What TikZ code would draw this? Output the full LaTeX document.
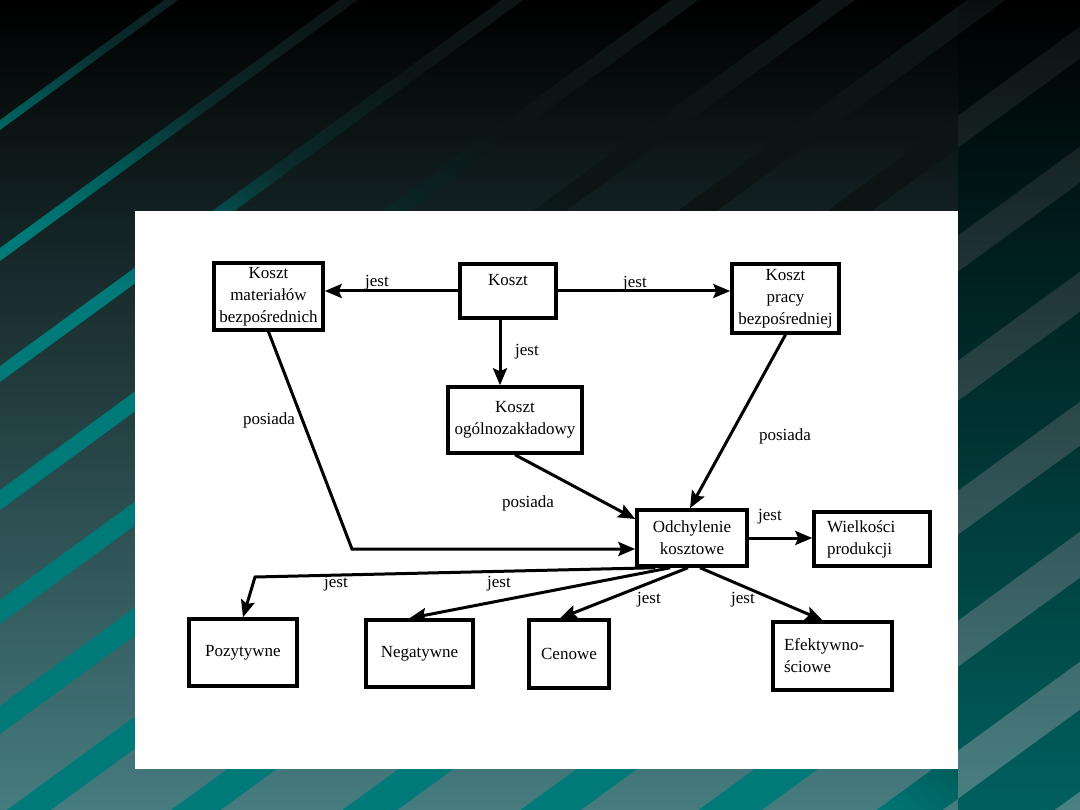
\documentclass[tikz,border=0pt]{standalone}
\usepackage{fontspec}
\setmainfont{Liberation Serif}
\usetikzlibrary{arrows.meta}

\definecolor{bglow}{HTML}{467C80}
\definecolor{stripeteal}{HTML}{007A78}
\definecolor{stripeteal2}{HTML}{005E5C}
\definecolor{stripemid}{HTML}{0B2A2A}
\definecolor{stripedark}{HTML}{0C1414}
\definecolor{rbglow}{HTML}{00605E}
\definecolor{rstriptop}{HTML}{0A0E0E}
\definecolor{rstriplow}{HTML}{4A8084}

\pgfdeclareverticalshading{stripeshade}{100bp}{color(0bp)=(stripeteal); color(43bp)=(stripeteal); color(47bp)=(stripeteal2); color(52bp)=(stripemid); color(59bp)=(stripedark); color(100bp)=(stripedark)}

\begin{document}
\begin{tikzpicture}[x=1pt, y=-1pt,
  every node/.style={font=\fontsize{17}{22}\selectfont},
  box/.style={draw, line width=3.5pt, fill=white, align=center, inner sep=0pt},
  lbl/.style={inner sep=1pt},
  arr/.style={line width=3pt, -{Stealth[length=17pt, width=14pt, inset=3pt]}}]
\def\stripes{120/10, 248/13, 366/16, 490/20, 600/24, 706/28, 815/32, 935/36, 1060/40, 1190/44, 1320/46, 1450/48, 1580/50}
\useasboundingbox (0,0) rectangle (1080,810);

% Background with stripes
\shade[top color=black, bottom color=bglow] (0,0) rectangle (1080,810);
\begin{scope}
  \clip \foreach \c/\t in \stripes {(-20,{\c+14.6}) -- (1100,{\c-803}) -- (1100,{\c-803+\t}) -- (-20,{\c+14.6+\t}) -- cycle};
  \shade[shading=stripeshade, shading angle=-35] (-10,-150) rectangle (1090,950);
\end{scope}
\begin{scope}
  \clip (958,0) rectangle (1080,810);
  \shade[top color=black, bottom color=rbglow] (958,0) rectangle (1080,810);
  \clip \foreach \c/\t in \stripes {(-20,{\c+14.6}) -- (1100,{\c-803}) -- (1100,{\c-803+\t}) -- (-20,{\c+14.6+\t}) -- cycle};
  \shade[top color=rstriptop, bottom color=rstriplow] (958,0) rectangle (1080,810);
\end{scope}

% White sheet
\fill[white] (135,211) rectangle (958,769);

% Boxes
\node[box, minimum width=109pt, minimum height=67pt] (kmb) at (268.5,296.5) {Koszt\\materiałów\\bezpośrednich};
\node[box, minimum width=96pt, minimum height=54pt] (k) at (508,291) {Koszt\\~};
\node[box, minimum width=107pt, minimum height=69pt] (kpb) at (785.5,298.5) {Koszt\\pracy\\bezpośredniej};
\node[box, minimum width=134pt, minimum height=66pt] (kog) at (515,420) {Koszt\\ogólnozakładowy};
\node[box, minimum width=110pt, minimum height=56pt] (odch) at (692,538) {Odchylenie\\kosztowe};
\node[box, minimum width=116pt, minimum height=54pt, text width=90pt, align=left] (wp) at (872,539) {Wielkości\\produkcji};
\node[box, minimum width=108pt, minimum height=67pt] (poz) at (243,652.5) {Pozytywne};
\node[box, minimum width=107pt, minimum height=67pt] (neg) at (419.5,653.5) {Negatywne};
\node[box, minimum width=80pt, minimum height=68pt] (cen) at (569,654) {Cenowe};
\node[box, minimum width=119pt, minimum height=68pt, text width=97pt, align=left] (efk) at (832.5,656) {Efektywno-\\ściowe};

% Bends
\coordinate (bendL) at (352,549);
\coordinate (bendP) at (255,577);

% Connectors
\draw[arr] (k.west) -- (k.west -| kmb.east);
\draw[arr] (k.east) -- (k.east -| kpb.west);
\draw[arr] ([xshift=-8pt]k.south) -- ([xshift=-8pt]k.south |- kog.north);
\draw[arr] (kmb.south) -- (bendL) -- (bendL -| odch.west);
\draw[arr] (kpb.south) -- ([xshift=-2pt]odch.north);
\draw[arr] (kog.south) -- ([yshift=19pt]odch.west);
\draw[arr] (odch.east) -- (odch.east -| wp.west);
\draw[arr] ([xshift=20pt]odch.south west) -- (bendP) -- (poz.north);
\draw[arr] ([xshift=35pt]odch.south west) -- ([xshift=-10pt]neg.north);
\draw[arr] ([xshift=-4pt]odch.south) -- ([xshift=-9pt]cen.north);
\draw[arr] ([xshift=8pt]odch.south) -- ([xshift=-10pt]efk.north);

% Labels
\node[lbl] (j1) at (377,283) {jest};
\node[lbl] (j2) at (635,284) {jest};
\node[lbl] (j3) at (527,352) {jest};
\node[lbl] (p1) at (269,420) {posiada};
\node[lbl] (p2) at (785,436) {posiada};
\node[lbl] (p3) at (528,503) {posiada};
\node[lbl] (j4) at (770,517) {jest};
\node[lbl] (j5) at (336,584) {jest};
\node[lbl] (j6) at (499,584) {jest};
\node[lbl] (j7) at (649,600) {jest};
\node[lbl] (j8) at (743,600) {jest};

\end{tikzpicture}
\end{document}
